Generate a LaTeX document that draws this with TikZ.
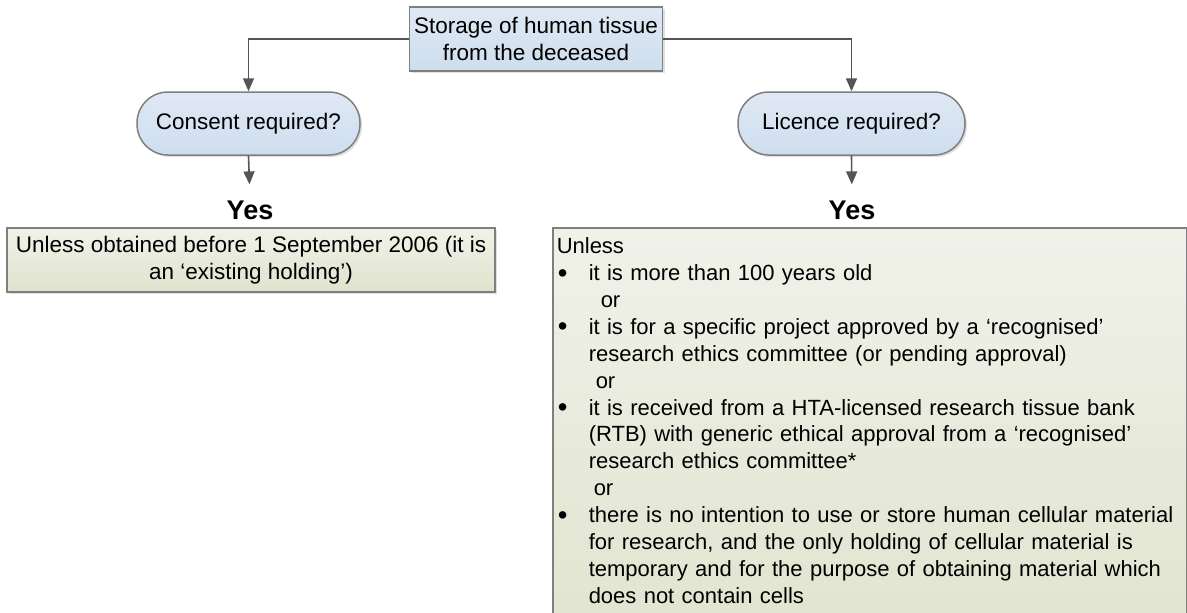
\documentclass[tikz,border=0pt]{standalone}
\usepackage[svgnames]{xcolor}
\usepackage{fontspec}
\setmainfont{Liberation Sans}
\usetikzlibrary{arrows.meta,shadows}

\definecolor{BlueTop}{HTML}{E0E9F4}
\definecolor{BlueBottom}{HTML}{C6D8EC}
\definecolor{GreenTop}{HTML}{F0F2E9}
\definecolor{GreenBottom}{HTML}{DFE3CD}
\definecolor{EdgeGray}{HTML}{7F7F7F}
\definecolor{WireGray}{HTML}{555555}

\newcommand{\bul}{\makebox[32pt][l]{\hspace*{1pt}\raisebox{-1.6pt}{\scalebox{1.25}{\textbullet}}}}
\newcommand{\ind}{\hspace*{32pt}}

\begin{document}
\begin{tikzpicture}[x=1pt, y=-1pt,
    every node/.style={font=\fontsize{22.5}{26.9}\selectfont},
    bluebox/.style={draw=EdgeGray, line width=1.5pt, top color=BlueTop, bottom color=BlueTop!30!BlueBottom,
        drop shadow={opacity=0.25, shadow xshift=2pt, shadow yshift=-2pt}},
    greenbox/.style={draw=EdgeGray, line width=1.5pt, top color=GreenTop, bottom color=GreenBottom,
        drop shadow={opacity=0.25, shadow xshift=2pt, shadow yshift=-2pt}},
    pill/.style={bluebox, rounded corners=31pt, minimum height=63pt},
    yeslabel/.style={font=\fontsize{27}{30}\selectfont\bfseries, inner sep=0pt},
    wire/.style={draw=WireGray, line width=1.6pt, -{Triangle[width=11pt,length=13pt]}}]

    \path[use as bounding box, clip] (0,0) rectangle (1187,613);

    %Top box
    \node[bluebox, minimum width=253pt, minimum height=64pt, align=center] (store) at (536,39)
        {Storage of human tissue\\from the deceased};

    %Questions
    \node[pill, minimum width=223pt] (consent) at (248.5,123.5) {Consent required?};
    \node[pill, minimum width=227pt] (licence) at (851.5,123.5) {Licence required?};

    %Answers
    \node[yeslabel] (consentyes) at (250,210) {Yes};
    \node[yeslabel] (licenceyes) at (852,210) {Yes};

    %Left answer box
    \node[greenbox, minimum width=488pt, minimum height=64pt, align=center] (consentbox) at (251,260)
        {Unless obtained before 1 September 2006 (it is\\an ‘existing holding’)};

    %Right answer box (runs off the bottom)
    \node[greenbox, anchor=north west, text width=626pt, inner xsep=4pt, inner ysep=10pt, align=left,
          font=\fontsize{22}{26.9}\selectfont] (licencebox) at (552,227)
        {Unless\\
         \bul it is more than 100 years old\\
         \hspace*{44pt}or\\
         \bul it is for a specific project approved by a ‘recognised’\\
         \ind research ethics committee (or pending approval)\\
         \hspace*{39pt}or\\
         \bul it is received from a HTA-licensed research tissue bank\\
         \ind (RTB) with generic ethical approval from a ‘recognised’\\
         \ind research ethics committee*\\
         \hspace*{37pt}or\\
         \mbox{\bul there is no intention to use or store human cellular material}\\
         \ind for research, and the only holding of cellular material is\\
         \ind temporary and for the purpose of obtaining material which\\
         \ind does not contain cells\\
         \mbox{}\\ \mbox{}};

    % Top wires
    \draw[wire] (store.west) -| (consent.north);
    \draw[wire] (store.east) -| (licence.north);
    % Down to the answers
    \draw[wire, shorten >=16pt] (consent.south) -- (consentyes.north);
    \draw[wire, shorten >=16pt] (licence.south) -- (licenceyes.north);

\end{tikzpicture}
\end{document}
